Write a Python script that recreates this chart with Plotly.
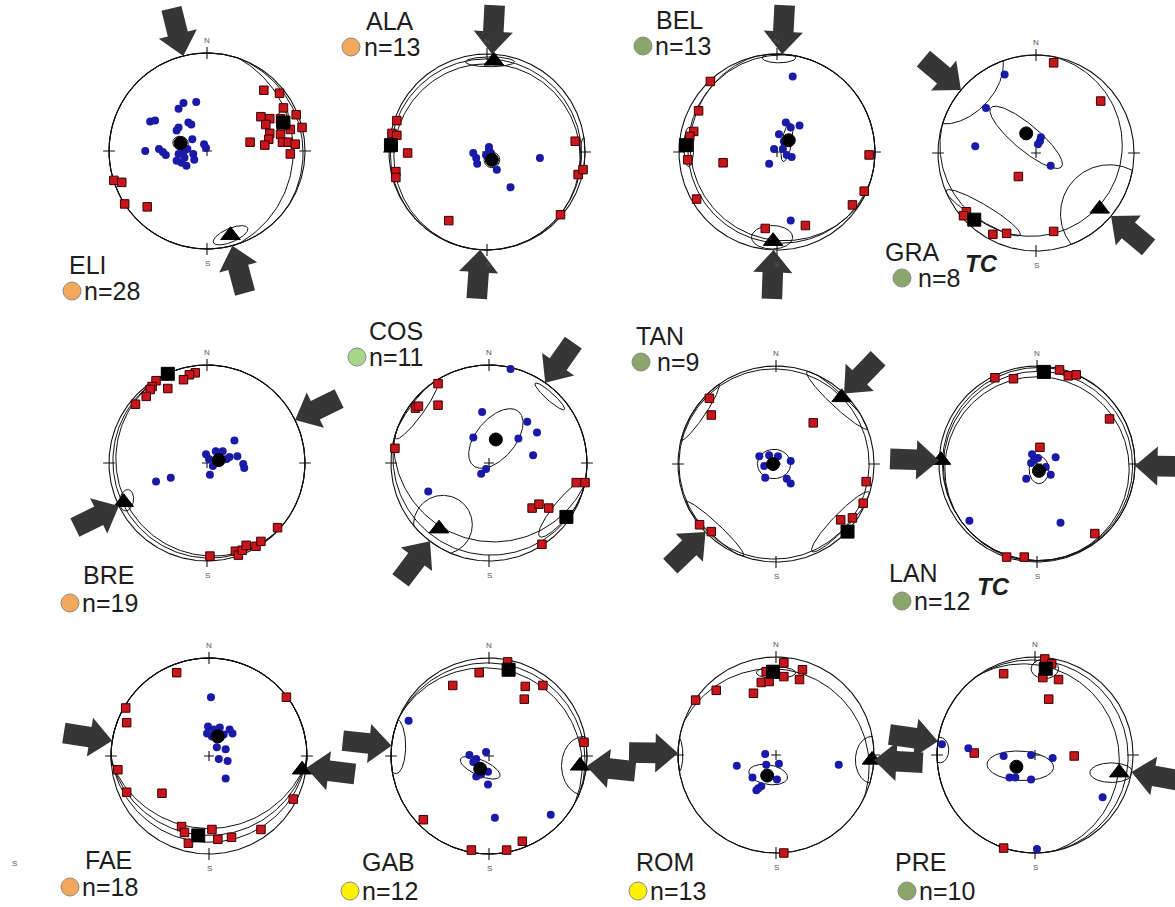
import numpy as np
import plotly.graph_objects as go

# ---------------- data (net units: x = east, y = north, primitive radius = 1) ----------------
SITES = ["ELI", "ALA", "BEL", "GRA", "BRE", "COS", "TAN", "LAN", "FAE", "GAB", "ROM", "PRE"]
N_COUNTS = [28, 13, 13, 8, 19, 11, 9, 12, 18, 12, 13, 10]
GROUPS = ["orange", "orange", "green", "green", "orange", "lightgreen",
          "green", "green", "orange", "yellow", "yellow", "green"]
TC_SITES = ["GRA", "LAN"]

ELI_BLUE = [(-0.11, 0.50), (-0.24, 0.49), (-0.29, 0.43), (-0.58, 0.30), (-0.53, 0.31), (-0.29, 0.24),
            (-0.19, 0.29), (-0.16, 0.27), (-0.31, 0.21), (-0.15, 0.12), (-0.03, 0.07), (-0.01, 0.03),
            (-0.63, 0.0), (-0.49, 0.02), (-0.45, -0.01), (-0.42, -0.04), (-0.24, -0.01), (-0.20, 0.02),
            (-0.14, -0.03), (-0.13, -0.09), (-0.31, -0.10), (-0.26, -0.12), (-0.21, -0.15), (-0.23, -0.07),
            (-0.29, -0.03)]
ELI_RED = [(0.58, 0.62), (0.74, 0.59), (0.78, 0.44), (0.91, 0.37), (0.55, 0.35), (0.64, 0.33), (0.60, 0.27),
           (0.75, 0.33), (0.97, 0.24), (0.64, 0.18), (0.75, 0.17), (0.63, 0.12), (0.59, 0.06), (0.44, 0.09),
           (0.77, 0.09), (0.83, 0.09), (0.90, 0.07), (0.85, -0.03), (0.85, 0.22), (-0.95, -0.30),
           (-0.87, -0.32), (-0.84, -0.54), (-0.61, -0.57)]
ELI_MEANS = [(-0.27, 0.08), (0.78, 0.29), (0.24, -0.86)]   # sigma3 mean, sigma1 mean, sigma2 mean
ELI_CONES = [(-0.27, 0.08, 0.07, 0.08, 70), (0.77, 0.31, 0.12, 0.06, 80), (0.24, -0.86, 0.19, 0.07, 23),
             (-0.20, 0.0, 1.08, 1.08, 0), (-0.06, -0.02, 1.04, 1.04, 0)]
ELI_SHMAX = [346, 165]

ALA_BLUE = [(-0.14, -0.01), (-0.11, -0.06), (-0.10, -0.12), (0.02, 0.02), (0.04, -0.01), (0.10, -0.18),
            (0.24, -0.36), (0.54, -0.06), (-0.01, -0.03), (0.02, 0.05)]
ALA_RED = [(-0.92, 0.32), (-0.97, 0.19), (-0.92, 0.17), (-0.81, -0.01), (-0.93, -0.20), (-0.93, -0.26),
           (0.90, 0.11), (0.93, -0.23), (0.98, -0.18), (0.75, -0.64), (-0.39, -0.70)]
ALA_MEANS = [(0.05, -0.08), (-0.98, 0.07), (0.07, 0.93)]
ALA_CONES = [(0.05, -0.08, 0.08, 0.08, 0), (0.03, 0.92, 0.25, 0.05, 0), (0.0, -0.05, 0.95, 0.95, 0),
             (-0.01, -0.025, 0.975, 0.975, 0), (0.99, -0.05, 0.2, 0.04, 90)]
ALA_SHMAX = [3, 184]

BEL_BLUE = [(0.16, 0.77), (0.09, 0.30), (0.14, 0.25), (0.23, 0.27), (0.02, 0.18), (-0.03, 0.03), (0.06, 0.03),
            (0.10, -0.03), (0.15, -0.05), (-0.08, -0.12), (0.14, -0.70), (0.07, 0.11)]
BEL_RED = [(-0.68, 0.72), (-0.80, 0.42), (-0.85, 0.21), (-0.89, 0.16), (-0.91, -0.08), (-0.55, -0.11),
           (0.94, -0.03), (0.89, -0.40), (0.77, -0.54), (-0.82, -0.48), (-0.12, -0.78), (0.29, -0.75)]
BEL_MEANS = [(0.12, 0.12), (-0.93, 0.07), (-0.04, -0.91)]
BEL_CONES = [(0.10, 0.10, 0.20, 0.05, 80), (-0.05, -0.87, 0.21, 0.12, 0), (0.02, 0.96, 0.17, 0.05, 0),
             (-0.90, 0.05, 0.20, 0.05, 90), (0.05, 0.03, 0.96, 0.96, 0), (0.08, 0.06, 0.965, 0.965, 0)]
BEL_SHMAX = [3, 182]

GRA_BLUE = [(-0.32, 0.80), (-0.51, 0.46), (-0.62, 0.07), (0.05, 0.16), (0.04, 0.12), (0.02, 0.09), (0.15, -0.13)]
GRA_RED = [(0.18, 0.92), (0.66, 0.53), (-0.18, -0.24), (-0.71, -0.60), (-0.74, -0.64), (-0.44, -0.83),
           (-0.30, -0.82), (0.18, -0.80)]
GRA_MEANS = [(-0.10, 0.20), (-0.63, -0.68), (0.65, -0.57)]
GRA_CONES = [(-0.10, 0.16, 0.47, 0.13, -40), (-0.75, 0.72, 0.50, 0.32, 46), (0.75, -0.62, 0.50, 0.50, 0),
             (-0.54, -0.61, 0.44, 0.08, -31), (-0.05, 0.08, 0.93, 0.93, 0)]
GRA_SHMAX = [310, 130]

BRE_BLUE = [(0.28, 0.23), (-0.01, 0.09), (0.09, 0.12), (0.16, 0.12), (0.02, 0.04), (0.06, -0.03), (0.23, 0.06),
            (0.31, 0.07), (0.37, -0.01), (0.38, -0.05), (0.03, -0.12), (-0.37, -0.15), (-0.52, -0.19),
            (0.20, 0.04), (0.11, 0.07)]
BRE_RED = [(-0.12, 0.92), (-0.18, 0.90), (-0.24, 0.85), (-0.40, 0.76), (-0.52, 0.84), (-0.56, 0.78),
           (-0.58, 0.75), (-0.62, 0.68), (-0.73, 0.60), (0.03, -0.95), (0.29, -0.90), (0.32, -0.94),
           (0.36, -0.89), (0.40, -0.84), (0.50, -0.85), (0.55, -0.80), (0.72, -0.66)]
BRE_MEANS = [(0.12, 0.03), (-0.40, 0.91), (-0.85, -0.40)]
BRE_CONES = [(-0.82, -0.38, 0.11, 0.07, 80), (0.06, 0.04, 0.99, 0.99, 0), (0.03, 0.02, 0.99, 0.99, 0)]
BRE_SHMAX = [64, 244]

COS_BLUE = [(0.22, 0.96), (-0.07, 0.52), (0.39, 0.42), (0.49, 0.31), (-0.16, 0.26), (0.30, 0.25), (0.45, 0.08),
            (-0.03, -0.06), (-0.08, -0.11), (-0.62, -0.29)]
COS_RED = [(-0.52, 0.81), (-0.75, 0.56), (-0.72, 0.58), (-0.52, 0.59), (-0.96, 0.15), (0.89, -0.20),
           (0.98, -0.20), (0.44, -0.46), (0.51, -0.42), (0.61, -0.46), (0.54, -0.83)]
COS_MEANS = [(0.07, 0.24), (0.79, -0.55), (-0.51, -0.67)]
COS_CONES = [(0.07, 0.25, 0.36, 0.20, 50), (-0.47, -0.63, 0.30, 0.30, 0), (0.76, -0.46, 0.38, 0.09, 50),
             (-0.74, 0.54, 0.36, 0.07, 54), (0.62, 0.68, 0.20, 0.04, -42), (0.05, 0.22, 1.025, 1.025, 0),
             (0.02, 0.06, 1.0, 1.0, 0)]
COS_SHMAX = [35, 217]

TAN_BLUE = [(-0.17, 0.08), (-0.07, 0.09), (0.02, 0.08), (-0.12, -0.02), (0.15, 0.03), (-0.11, -0.14),
            (0.11, -0.15), (0.15, -0.20)]
TAN_RED = [(-0.68, 0.67), (-0.66, 0.50), (0.38, 0.42), (0.92, -0.18), (0.89, -0.40), (0.78, -0.55),
           (0.66, -0.57), (-0.78, -0.62), (-0.66, -0.69)]
TAN_MEANS = [(-0.03, 0.0), (0.73, -0.69), (0.67, 0.68)]
TAN_CONES = [(-0.02, 0.0, 0.17, 0.15, 0), (0.63, 0.65, 0.43, 0.07, -43), (-0.78, 0.53, 0.35, 0.06, 56),
             (-0.63, -0.66, 0.41, 0.06, -43), (0.66, -0.59, 0.42, 0.08, 46), (-0.02, 0.0, 0.97, 0.97, 0)]
TAN_SHMAX = [44, 226]

LAN_BLUE = [(-0.05, 0.10), (0.01, 0.06), (-0.06, 0.01), (0.09, -0.03), (0.14, -0.11), (0.19, 0.07),
            (-0.11, -0.15), (-0.69, -0.58), (0.24, -0.60), (-0.03, 0.04)]
LAN_RED = [(0.03, 0.17), (-0.43, 0.88), (-0.24, 0.87), (0.23, 0.96), (0.32, 0.90), (0.40, 0.91), (0.74, 0.46),
           (0.59, -0.71), (-0.31, -0.95), (-0.13, -0.95)]
LAN_MEANS = [(0.02, -0.07), (0.07, 0.94), (-0.98, 0.04)]
LAN_CONES = [(0.02, -0.06, 0.14, 0.10, 90), (0.0, -0.05, 0.94, 0.94, 0), (0.01, -0.02, 0.965, 0.965, 0),
             (0.02, 0.0, 0.985, 0.985, 0)]
LAN_SHMAX = [272, 91]

FAE_BLUE = [(0.02, 0.60), (-0.01, 0.30), (0.11, 0.29), (0.21, 0.27), (0.24, 0.23), (-0.02, 0.23), (0.03, 0.20),
            (0.08, 0.09), (0.17, 0.07), (0.10, -0.03), (0.19, -0.05), (0.17, -0.23), (0.08, 0.17),
            (0.15, 0.22), (0.05, 0.27)]
FAE_RED = [(-0.33, 0.85), (0.79, 0.60), (-0.85, 0.49), (-0.84, 0.34), (-0.93, -0.14), (-0.84, -0.37),
           (-0.48, -0.38), (0.86, -0.44), (0.53, -0.75), (-0.28, -0.72), (-0.25, -0.78), (-0.21, -0.89),
           (0.03, -0.75), (0.09, -0.85), (0.23, -0.83)]
FAE_MEANS = [(0.09, 0.20), (-0.11, -0.81), (0.95, -0.14)]
FAE_CONES = [(0.09, 0.20, 0.07, 0.06, 0), (0.0, 0.33, 1.07, 1.07, 0), (0.0, 0.22, 1.03, 1.03, 0),
             (0.0, 0.125, 1.005, 1.005, 0)]
FAE_SHMAX = [279, 97]

GAB_BLUE = [(-0.82, 0.36), (-0.20, 0.01), (-0.13, -0.03), (-0.03, 0.04), (-0.01, -0.16), (-0.13, -0.21),
            (-0.01, -0.29), (0.06, -0.63), (0.63, -0.60), (-0.16, -0.06), (-0.08, -0.19)]
GAB_RED = [(0.19, 0.96), (-0.10, 0.85), (-0.37, 0.72), (0.37, 0.71), (0.55, 0.72), (0.36, 0.58), (0.97, 0.14),
           (-0.67, -0.65), (-0.18, -0.96), (0.18, -0.96), (0.34, -0.87)]
GAB_MEANS = [(-0.09, -0.13), (0.20, 0.88), (0.93, -0.10)]
GAB_CONES = [(-0.09, -0.12, 0.22, 0.08, -24), (-0.95, 0.10, 0.28, 0.10, 90), (0.97, -0.10, 0.30, 0.23, 90),
             (-0.05, -0.10, 1.0, 1.0, 0), (-0.02, -0.05, 1.0, 1.0, 0)]
GAB_SHMAX = [276, 96]

ROM_BLUE = [(-0.11, 0.01), (-0.10, -0.10), (0.03, -0.09), (-0.40, -0.11), (0.64, -0.10), (-0.24, -0.23),
            (0.01, -0.25), (-0.15, -0.32), (-0.20, -0.36), (-0.18, -0.34)]
ROM_RED = [(0.08, 0.94), (0.27, 0.87), (-0.10, 0.85), (-0.15, 0.74), (-0.07, 0.75), (0.08, 0.80), (0.24, 0.77),
           (-0.23, 0.63), (-0.61, 0.66), (-0.82, 0.56), (0.08, -1.0)]
ROM_MEANS = [(-0.09, -0.21), (-0.03, 0.85), (0.98, -0.05)]
ROM_CONES = [(-0.08, -0.20, 0.20, 0.10, -10), (0.0, 0.84, 0.20, 0.06, 0), (0.98, -0.05, 0.24, 0.17, 90),
             (-1.0, 0.0, 0.18, 0.05, 90), (-0.05, -0.12, 1.0, 1.0, 0)]
ROM_SHMAX = [271, 93]

PRE_BLUE = [(-0.95, 0.11), (-0.68, 0.07), (-0.32, -0.01), (-0.04, 0.0), (0.18, -0.03), (-0.26, -0.23),
            (-0.20, -0.23), (-0.04, -0.25), (0.69, -0.43), (0.02, -0.96)]
PRE_RED = [(0.10, 0.98), (0.17, 0.93), (0.08, 0.79), (0.24, 0.77), (-0.32, 0.83), (0.14, 0.57), (-0.62, 0.02),
           (0.40, -0.01), (-0.32, -0.95)]
PRE_MEANS = [(-0.19, -0.12), (0.11, 0.88), (0.86, -0.18)]
PRE_CONES = [(-0.15, -0.11, 0.34, 0.15, -3), (0.10, 0.88, 0.14, 0.10, 0), (0.78, -0.18, 0.22, 0.10, 0),
             (-0.97, 0.05, 0.13, 0.09, 90), (-0.12, -0.05, 0.98, 0.98, 0), (-0.04, -0.02, 0.99, 0.99, 0)]
PRE_SHMAX = [278, 100]

DATA = {
    "ELI": (ELI_BLUE, ELI_RED, ELI_MEANS, ELI_CONES, ELI_SHMAX),
    "ALA": (ALA_BLUE, ALA_RED, ALA_MEANS, ALA_CONES, ALA_SHMAX),
    "BEL": (BEL_BLUE, BEL_RED, BEL_MEANS, BEL_CONES, BEL_SHMAX),
    "GRA": (GRA_BLUE, GRA_RED, GRA_MEANS, GRA_CONES, GRA_SHMAX),
    "BRE": (BRE_BLUE, BRE_RED, BRE_MEANS, BRE_CONES, BRE_SHMAX),
    "COS": (COS_BLUE, COS_RED, COS_MEANS, COS_CONES, COS_SHMAX),
    "TAN": (TAN_BLUE, TAN_RED, TAN_MEANS, TAN_CONES, TAN_SHMAX),
    "LAN": (LAN_BLUE, LAN_RED, LAN_MEANS, LAN_CONES, LAN_SHMAX),
    "FAE": (FAE_BLUE, FAE_RED, FAE_MEANS, FAE_CONES, FAE_SHMAX),
    "GAB": (GAB_BLUE, GAB_RED, GAB_MEANS, GAB_CONES, GAB_SHMAX),
    "ROM": (ROM_BLUE, ROM_RED, ROM_MEANS, ROM_CONES, ROM_SHMAX),
    "PRE": (PRE_BLUE, PRE_RED, PRE_MEANS, PRE_CONES, PRE_SHMAX),
}

# ---------------- layout (pixels) ----------------
W, H = 1175, 907
R = 98.0          # primitive radius in px
HALF = 1.8        # half size of each net panel in net units
CENTERS = {"ELI": (207, 151), "ALA": (487, 152), "BEL": (777, 152), "GRA": (1036, 153),
           "BRE": (207, 463), "COS": (489, 463), "TAN": (776, 464), "LAN": (1037, 464),
           "FAE": (209, 756), "GAB": (489, 756), "ROM": (776, 755), "PRE": (1035, 755)}
# name centre, group dot centre, left edge of "n=" text
LABELS = {"ELI": ((88, 265), (72, 291), 82), "ALA": ((390, 21), (351, 47), 362),
          "BEL": ((680, 20), (643, 46), 653), "GRA": ((912, 252), (902, 278), 916),
          "BRE": ((108, 575), (70, 603), 80), "COS": ((396, 331), (357, 357), 367),
          "TAN": ((660, 336), (641, 362), 655), "LAN": ((913, 573), (902, 601), 912),
          "FAE": ((108, 860), (70, 887), 80), "GAB": ((388, 862), (350, 891), 360),
          "ROM": ((665, 862), (638, 891), 648), "PRE": ((920, 862), (907, 891), 917)}
TC_POS = {"GRA": (981, 263), "LAN": (993, 586)}
GROUP_COLOR = {"orange": "#f4a85c", "green": "#8aa66a", "lightgreen": "#a8d68a", "yellow": "#fff200"}

FONT = "Liberation Sans, Arial, sans-serif"
BLUE = "#1a1aa8"
RED = "#c8161c"
ARROW = "#363636"


def cone_xy(cx, cy, a, b, ang):
    t = np.linspace(0, 2 * np.pi, 241)
    c, s = np.cos(np.radians(ang)), np.sin(np.radians(ang))
    x = cx + a * np.cos(t) * c - b * np.sin(t) * s
    y = cy + a * np.cos(t) * s + b * np.sin(t) * c
    r = np.hypot(x, y)
    k = np.minimum(1.0, 1.0 / np.maximum(r, 1e-9))
    return list(x * k) + [None], list(y * k) + [None]


def arrow_xy(az):
    th = np.radians(az)
    u = np.array([np.sin(th), np.cos(th)])
    v = np.array([np.cos(th), -np.sin(th)])
    L, HL, HW, SW = 0.50, 0.23, 0.20, 0.105
    tip = u * 1.0
    hb = u * (1.0 + HL)
    tail = u * (1.0 + L)
    pts = [tip, hb + HW * v, hb + SW * v, tail + SW * v, tail - SW * v, hb - SW * v, hb - HW * v, tip]
    return [p[0] for p in pts] + [None], [p[1] for p in pts] + [None]


fig = go.Figure()
annotations = []
layout_axes = {}

for i, site in enumerate(SITES):
    k = i + 1
    xa, ya = ("x", "y") if k == 1 else (f"x{k}", f"y{k}")
    xk, yk = ("xaxis", "yaxis") if k == 1 else (f"xaxis{k}", f"yaxis{k}")
    cx, cy = CENTERS[site]
    px0, px1 = max(0, cx - HALF * R), min(W, cx + HALF * R)
    py0, py1 = max(0, cy - HALF * R), min(H, cy + HALF * R)
    layout_axes[xk] = dict(domain=[px0 / W, px1 / W], range=[(px0 - cx) / R, (px1 - cx) / R],
                           visible=False, fixedrange=True, anchor=ya)
    layout_axes[yk] = dict(domain=[1 - py1 / H, 1 - py0 / H], range=[(cy - py1) / R, (cy - py0) / R],
                           visible=False, fixedrange=True, anchor=xa)

    def px2u(p):
        return (p[0] - cx) / R, (cy - p[1]) / R

    blue, red, means, cones, shmax = DATA[site]

    # primitive, cardinal ticks and centre cross
    t = np.linspace(0, 2 * np.pi, 361)
    lx = list(np.cos(t)) + [None]
    ly = list(np.sin(t)) + [None]
    d = 0.06
    for (ux, uy) in [(0, 1), (1, 0), (0, -1), (-1, 0)]:
        lx += [ux * (1 - d), ux * (1 + d), None]
        ly += [uy * (1 - d), uy * (1 + d), None]
    lx += [-0.05, 0.05, None, 0, 0, None]
    ly += [0, 0, None, -0.05, 0.05, None]
    fig.add_trace(go.Scatter(x=lx, y=ly, mode="lines", line=dict(color="#111", width=1.1),
                             xaxis=xa, yaxis=ya, hoverinfo="skip", showlegend=False))
    # confidence cones / great circles
    rx, ry = [], []
    for c in cones:
        a_, b_ = cone_xy(*c)
        rx += a_
        ry += b_
    fig.add_trace(go.Scatter(x=rx, y=ry, mode="lines", line=dict(color="#111", width=1),
                             xaxis=xa, yaxis=ya, hoverinfo="skip", showlegend=False))
    # sigma1 individual axes (red squares)
    fig.add_trace(go.Scatter(x=[p[0] for p in red], y=[p[1] for p in red], mode="markers",
                             marker=dict(symbol="square", size=8.5, color=RED, opacity=1,
                                         line=dict(color="#3a0000", width=1)),
                             xaxis=xa, yaxis=ya, showlegend=False))
    # sigma3 individual axes (blue dots)
    fig.add_trace(go.Scatter(x=[p[0] for p in blue], y=[p[1] for p in blue], mode="markers",
                             marker=dict(symbol="circle", size=8, color=BLUE, opacity=1, line=dict(width=0)),
                             xaxis=xa, yaxis=ya, showlegend=False))
    # means
    fig.add_trace(go.Scatter(x=[m[0] for m in means], y=[m[1] for m in means], mode="markers",
                             marker=dict(symbol=["circle", "square", "triangle-up"], size=[13, 13, 17],
                                         color="black", opacity=1, line=dict(color="black", width=1)),
                             xaxis=xa, yaxis=ya, showlegend=False))
    # SHmax arrows
    ax_, ay_ = [], []
    for az in shmax:
        a_, b_ = arrow_xy(az)
        ax_ += a_
        ay_ += b_
    fig.add_trace(go.Scatter(x=ax_, y=ay_, mode="lines", fill="toself", fillcolor=ARROW,
                             line=dict(width=0, color=ARROW), xaxis=xa, yaxis=ya,
                             hoverinfo="skip", showlegend=False))
    # labels
    (npos, dpos, nleft) = LABELS[site]
    nx, ny = px2u(npos)
    annotations.append(dict(x=nx, y=ny, xref=xa, yref=ya, text=site, showarrow=False,
                            font=dict(family=FONT, size=25, color="#1e1e1e"),
                            xanchor="center", yanchor="middle"))
    dx, dy = px2u(dpos)
    fig.add_trace(go.Scatter(x=[dx], y=[dy], mode="markers",
                             marker=dict(size=18, color=GROUP_COLOR[GROUPS[i]], opacity=1,
                                         line=dict(color="#8a8a8a", width=1)),
                             xaxis=xa, yaxis=ya, showlegend=False, cliponaxis=False))
    tx, ty = px2u((nleft, dpos[1]))
    annotations.append(dict(x=tx, y=ty, xref=xa, yref=ya, text=f"n={N_COUNTS[i]}", showarrow=False,
                            font=dict(family=FONT, size=25, color="#1e1e1e"),
                            xanchor="left", yanchor="middle"))
    annotations.append(dict(x=0, y=1.13, xref=xa, yref=ya, text="N", showarrow=False,
                            font=dict(family=FONT, size=8, color="#555"), yanchor="middle"))
    annotations.append(dict(x=0, y=-1.15, xref=xa, yref=ya, text="S", showarrow=False,
                            font=dict(family=FONT, size=8, color="#555"), yanchor="middle"))
    if site in TC_SITES:
        tcx, tcy = px2u(TC_POS[site])
        annotations.append(dict(x=tcx, y=tcy, xref=xa, yref=ya, text="<b><i>TC</i></b>", showarrow=False,
                                font=dict(family=FONT, size=24, color="#1e1e1e"),
                                xanchor="center", yanchor="middle"))

annotations.append(dict(x=10 / W, y=1 - 870 / H, xref="paper", yref="paper", text="S", showarrow=False,
                        font=dict(family=FONT, size=8, color="#555")))

fig.update_layout(width=W, height=H, margin=dict(l=0, r=0, t=0, b=0),
                  paper_bgcolor="white", plot_bgcolor="rgba(0,0,0,0)",
                  showlegend=False, annotations=annotations, hovermode=False, **layout_axes)
fig.write_html("out.html", config={"displayModeBar": False},
               post_script="document.body.style.margin='0px';")
